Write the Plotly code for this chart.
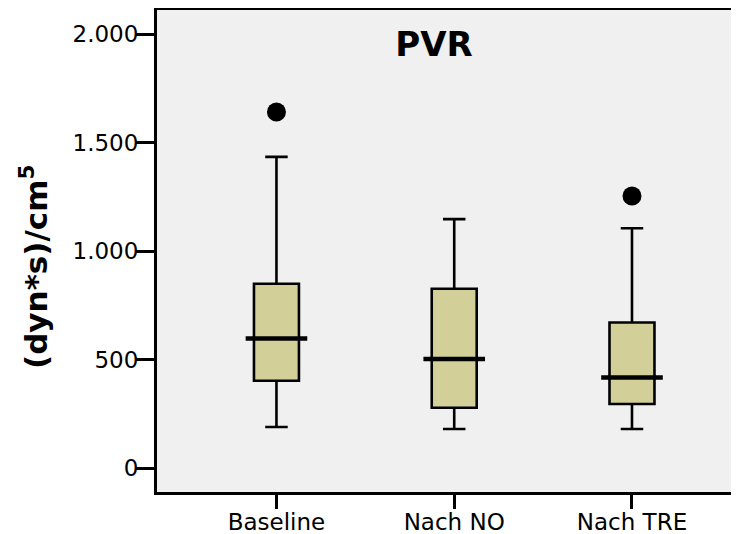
import plotly.graph_objects as go

categories = ["Baseline", "Nach NO", "Nach TRE"]
lower_whisker = [189, 180, 180]
q1_values = [402, 278, 295]
median_values = [597, 503, 417]
q3_values = [849, 826, 671]
upper_whisker = [1434, 1147, 1105]
outlier_x = ["Baseline", "Nach TRE"]
outlier_y = [1641, 1254]
y_tick_vals = [0, 500, 1000, 1500, 2000]
y_tick_text = ["0", "500", "1.000", "1.500", "2.000"]

pos = {c: i for i, c in enumerate(categories)}
xs = [pos[c] for c in categories]

# the page body has an 8px margin, so the figure is placed at (8, 8)
W, H = 731, 526
ML, MT, MB = 149, 2, 42
PW = W - ML
PH = H - MT - MB

fig = go.Figure()
fig.add_trace(go.Box(
    x=xs, q1=q1_values, median=median_values, q3=q3_values,
    lowerfence=lower_whisker, upperfence=upper_whisker,
    width=0.253, whiskerwidth=0.5,
    fillcolor="rgb(211,207,153)",
    line=dict(color="black", width=2.6),
    boxpoints=False, showlegend=False, hoverinfo="skip",
))
fig.add_trace(go.Scatter(
    x=xs, y=median_values, mode="markers",
    marker=dict(symbol="line-ew", size=44, line=dict(color="black", width=4.5)),
    showlegend=False, hoverinfo="skip",
))
fig.add_trace(go.Scatter(
    x=[pos[c] for c in outlier_x], y=outlier_y, mode="markers",
    marker=dict(symbol="circle", size=19, color="black"),
    showlegend=False, hoverinfo="skip",
))

fig.update_layout(
    width=W, height=H,
    margin=dict(l=ML, r=0, t=MT, b=MB),
    paper_bgcolor="white", plot_bgcolor="#F0F0F0",
    showlegend=False,
    title=dict(text="<b>PVR</b>", x=0.476, xanchor="center", xref="paper",
               y=1 - 36 / H, yref="container", yanchor="middle",
               font=dict(family="DejaVu Sans", size=34, color="black")),
    xaxis=dict(
        range=[-0.672, 2.602], tickvals=xs, ticktext=categories,
        showline=True, linecolor="black", linewidth=3, mirror=True,
        ticks="outside", ticklen=14, tickwidth=3, tickcolor="black",
        showgrid=False, zeroline=False, automargin=False,
        ticklabelstandoff=-7,
        tickfont=dict(family="DejaVu Sans", size=23, color="black"),
    ),
    yaxis=dict(
        range=[-110.5, 2111], tickvals=y_tick_vals, ticktext=y_tick_text,
        showline=True, linecolor="black", linewidth=3, mirror=False,
        ticks="outside", ticklen=18, tickwidth=3, tickcolor="black",
        showgrid=False, zeroline=False, automargin=False,
        ticklabelstandoff=-7,
        tickfont=dict(family="DejaVu Sans", size=23, color="black"),
    ),
    annotations=[dict(
        text="<b>(dyn*s)/cm<sup>5</sup></b>", textangle=-90,
        xref="paper", yref="paper",
        x=(34 - 8 - ML) / PW, y=(492 - 267) / PH,
        xanchor="center", yanchor="middle", showarrow=False,
        font=dict(family="DejaVu Sans", size=31, color="black"),
    )],
)

fig.write_html("out.html")
